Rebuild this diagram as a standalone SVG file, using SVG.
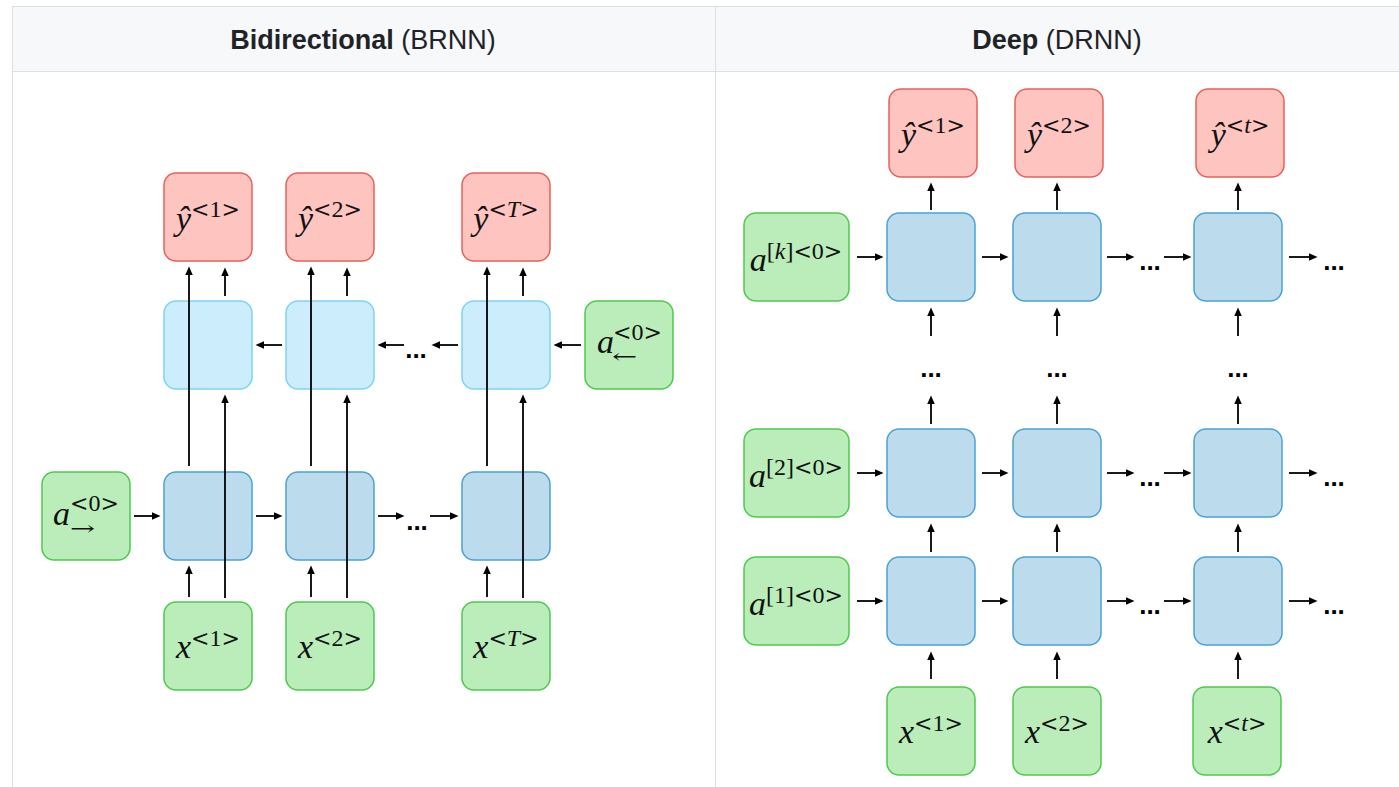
<svg xmlns="http://www.w3.org/2000/svg" width="1399" height="787" viewBox="0 0 1399 787">
  <defs>
    <marker id="ah" markerUnits="userSpaceOnUse" markerWidth="9" markerHeight="8" refX="2" refY="3.75" orient="auto">
      <path d="M0,0 L8.5,3.75 L0,7.5 z" fill="#000"/>
    </marker>
    <style>
      .grid { stroke: #dcdfe3; stroke-width: 1; fill: none; }
      .head { font-family: "Liberation Sans", Arial, sans-serif; font-size: 27px; fill: #1f2328; }
      .red { fill: #fdc4c0; stroke: #e8605a; stroke-width: 1.5; }
      .green { fill: #bbedbb; stroke: #4dc94d; stroke-width: 1.5; }
      .blue { fill: #bcdcee; stroke: #4aa2d4; stroke-width: 1.5; }
      .lblue { fill: #ccedfb; stroke: #7fd3f2; stroke-width: 1.5; }
      .lab { font-family: "Liberation Serif", "DejaVu Serif", serif; font-size: 34px; fill: #111; }
      .v { font-style: italic; }
      .sup { font-size: 24px; font-style: normal; }
      .ang { font-family: "DejaVu Serif", "Liberation Serif", serif; font-size: 22px; }
      .sub { font-family: "DejaVu Serif", serif; font-size: 20px; fill: #111; }
      .dots { font-family: "Liberation Sans", Arial, sans-serif; font-weight: bold; font-size: 26px; fill: #000; }
      .conn path { stroke: #000; stroke-width: 1.8; fill: none; marker-end: url(#ah); }
    </style>
  </defs>

  <!-- table frame -->
  <rect x="0" y="0" width="1399" height="787" fill="#fff"/>
  <rect x="12" y="6" width="1390" height="65" fill="#f6f8fa"/>
  <path class="grid" d="M12 6.5 H1399 M12 71.5 H1399 M12.5 6 V787 M715.5 6 V787"/>
  <text class="head" x="363" y="49" text-anchor="middle"><tspan font-weight="bold">Bidirectional</tspan> (BRNN)</text>
  <text class="head" x="1057" y="49" text-anchor="middle"><tspan font-weight="bold">Deep</tspan> (DRNN)</text>

  <!-- ===== Bidirectional RNN ===== -->
  <g id="brnn-y1"><rect class="red" x="164" y="173" width="88" height="88" rx="12"/>
    <text class="lab" x="208" y="230" text-anchor="middle"><tspan class="v">ŷ</tspan><tspan class="sup" dy="-13"><tspan class="ang">&lt;</tspan>1<tspan class="ang">&gt;</tspan></tspan></text></g>
  <g id="brnn-y2"><rect class="red" x="286" y="173" width="88" height="88" rx="12"/>
    <text class="lab" x="330" y="230" text-anchor="middle"><tspan class="v">ŷ</tspan><tspan class="sup" dy="-13"><tspan class="ang">&lt;</tspan>2<tspan class="ang">&gt;</tspan></tspan></text></g>
  <g id="brnn-yT"><rect class="red" x="462" y="173" width="88" height="88" rx="12"/>
    <text class="lab" x="506" y="230" text-anchor="middle"><tspan class="v">ŷ</tspan><tspan class="sup" dy="-13"><tspan class="ang">&lt;</tspan><tspan class="v">T</tspan><tspan class="ang">&gt;</tspan></tspan></text></g>

  <g id="brnn-back1"><rect class="lblue" x="164" y="301" width="88" height="88" rx="12"/></g>
  <g id="brnn-back2"><rect class="lblue" x="286" y="301" width="88" height="88" rx="12"/></g>
  <g id="brnn-backT"><rect class="lblue" x="462" y="301" width="88" height="88" rx="12"/></g>
  <g id="brnn-a0-back"><rect class="green" x="585" y="301" width="88" height="88" rx="12"/>
    <text class="lab v" x="597" y="353">a</text>
    <text class="lab sup" x="613" y="340"><tspan class="ang">&lt;</tspan>0<tspan class="ang">&gt;</tspan></text>
    <text class="sub" transform="translate(612 363) scale(1.5 1)">←</text></g>

  <g id="brnn-fwd1"><rect class="blue" x="164" y="472" width="88" height="88" rx="12"/></g>
  <g id="brnn-fwd2"><rect class="blue" x="286" y="472" width="88" height="88" rx="12"/></g>
  <g id="brnn-fwdT"><rect class="blue" x="462" y="472" width="88" height="88" rx="12"/></g>
  <g id="brnn-a0-fwd"><rect class="green" x="42" y="472" width="88" height="88" rx="12"/>
    <text class="lab v" x="53" y="525">a</text>
    <text class="lab sup" x="70" y="511"><tspan class="ang">&lt;</tspan>0<tspan class="ang">&gt;</tspan></text>
    <text class="sub" transform="translate(70 535) scale(1.5 1)">→</text></g>

  <g id="brnn-x1"><rect class="green" x="164" y="602" width="88" height="88" rx="12"/>
    <text class="lab" x="208" y="658" text-anchor="middle"><tspan class="v">x</tspan><tspan class="sup" dy="-12"><tspan class="ang">&lt;</tspan>1<tspan class="ang">&gt;</tspan></tspan></text></g>
  <g id="brnn-x2"><rect class="green" x="286" y="602" width="88" height="88" rx="12"/>
    <text class="lab" x="330" y="658" text-anchor="middle"><tspan class="v">x</tspan><tspan class="sup" dy="-12"><tspan class="ang">&lt;</tspan>2<tspan class="ang">&gt;</tspan></tspan></text></g>
  <g id="brnn-xT"><rect class="green" x="462" y="602" width="88" height="88" rx="12"/>
    <text class="lab" x="506" y="658" text-anchor="middle"><tspan class="v">x</tspan><tspan class="sup" dy="-12"><tspan class="ang">&lt;</tspan><tspan class="v">T</tspan><tspan class="ang">&gt;</tspan></tspan></text></g>

  <!-- ===== Deep RNN ===== -->
  <g id="drnn-y1"><rect class="red" x="889" y="89" width="88" height="88" rx="12"/>
    <text class="lab" x="933" y="146" text-anchor="middle"><tspan class="v">ŷ</tspan><tspan class="sup" dy="-13"><tspan class="ang">&lt;</tspan>1<tspan class="ang">&gt;</tspan></tspan></text></g>
  <g id="drnn-y2"><rect class="red" x="1015" y="89" width="88" height="88" rx="12"/>
    <text class="lab" x="1059" y="146" text-anchor="middle"><tspan class="v">ŷ</tspan><tspan class="sup" dy="-13"><tspan class="ang">&lt;</tspan>2<tspan class="ang">&gt;</tspan></tspan></text></g>
  <g id="drnn-yt"><rect class="red" x="1196" y="89" width="88" height="88" rx="12"/>
    <text class="lab" x="1240" y="146" text-anchor="middle"><tspan class="v">ŷ</tspan><tspan class="sup" dy="-13"><tspan class="ang">&lt;</tspan><tspan class="v">t</tspan><tspan class="ang">&gt;</tspan></tspan></text></g>

  <g id="drnn-ak"><rect class="green" x="744" y="213" width="105" height="88" rx="12"/>
    <text class="lab" x="796" y="271" text-anchor="middle"><tspan class="v">a</tspan><tspan class="sup" dy="-12">[<tspan class="v">k</tspan>]<tspan class="ang">&lt;</tspan>0<tspan class="ang">&gt;</tspan></tspan></text></g>
  <g id="drnn-k1"><rect class="blue" x="887" y="213" width="88" height="88" rx="12"/></g>
  <g id="drnn-k2"><rect class="blue" x="1013" y="213" width="88" height="88" rx="12"/></g>
  <g id="drnn-kt"><rect class="blue" x="1194" y="213" width="88" height="88" rx="12"/></g>

  <g id="drnn-a2"><rect class="green" x="744" y="429" width="105" height="88" rx="12"/>
    <text class="lab" x="796" y="487" text-anchor="middle"><tspan class="v">a</tspan><tspan class="sup" dy="-12">[2]<tspan class="ang">&lt;</tspan>0<tspan class="ang">&gt;</tspan></tspan></text></g>
  <g id="drnn-21"><rect class="blue" x="887" y="429" width="88" height="88" rx="12"/></g>
  <g id="drnn-22"><rect class="blue" x="1013" y="429" width="88" height="88" rx="12"/></g>
  <g id="drnn-2t"><rect class="blue" x="1194" y="429" width="88" height="88" rx="12"/></g>

  <g id="drnn-a1"><rect class="green" x="744" y="557" width="105" height="88" rx="12"/>
    <text class="lab" x="796" y="615" text-anchor="middle"><tspan class="v">a</tspan><tspan class="sup" dy="-12">[1]<tspan class="ang">&lt;</tspan>0<tspan class="ang">&gt;</tspan></tspan></text></g>
  <g id="drnn-11"><rect class="blue" x="887" y="557" width="88" height="88" rx="12"/></g>
  <g id="drnn-12"><rect class="blue" x="1013" y="557" width="88" height="88" rx="12"/></g>
  <g id="drnn-1t"><rect class="blue" x="1194" y="557" width="88" height="88" rx="12"/></g>

  <g id="drnn-x1"><rect class="green" x="887" y="687" width="88" height="88" rx="12"/>
    <text class="lab" x="931" y="743" text-anchor="middle"><tspan class="v">x</tspan><tspan class="sup" dy="-12"><tspan class="ang">&lt;</tspan>1<tspan class="ang">&gt;</tspan></tspan></text></g>
  <g id="drnn-x2"><rect class="green" x="1013" y="687" width="88" height="88" rx="12"/>
    <text class="lab" x="1057" y="743" text-anchor="middle"><tspan class="v">x</tspan><tspan class="sup" dy="-12"><tspan class="ang">&lt;</tspan>2<tspan class="ang">&gt;</tspan></tspan></text></g>
  <g id="drnn-xt"><rect class="green" x="1193" y="687" width="88" height="88" rx="12"/>
    <text class="lab" x="1237" y="743" text-anchor="middle"><tspan class="v">x</tspan><tspan class="sup" dy="-12"><tspan class="ang">&lt;</tspan><tspan class="v">t</tspan><tspan class="ang">&gt;</tspan></tspan></text></g>

  <!-- connectors -->
  <g id="connectors" class="conn">
    <!-- BRNN forward chain -->
    <path d="M134 516 H154"/>
    <path d="M256 516 H276"/>
    <path d="M378 516 H398"/>
    <path d="M430 516 H452"/>
    <!-- BRNN backward chain -->
    <path d="M282 345 H262"/>
    <path d="M404 345 H384"/>
    <path d="M458 345 H438"/>
    <path d="M581 345 H560"/>
    <!-- BRNN verticals, column 1 -->
    <path d="M189 597 V572"/>
    <path d="M225 598 V401"/>
    <path d="M189 466 V273"/>
    <path d="M225 296 V274"/>
    <!-- column 2 -->
    <path d="M311 597 V572"/>
    <path d="M347 598 V401"/>
    <path d="M311 466 V273"/>
    <path d="M347 296 V274"/>
    <!-- column T -->
    <path d="M487 597 V572"/>
    <path d="M523 598 V401"/>
    <path d="M487 466 V273"/>
    <path d="M523 296 V274"/>

    <!-- DRNN horizontal chains -->
    <path d="M857 257 H877"/><path d="M982 257 H1002"/><path d="M1107 257 H1128"/><path d="M1164 257 H1185"/><path d="M1289 257 H1311"/>
    <path d="M857 473 H877"/><path d="M982 473 H1002"/><path d="M1107 473 H1128"/><path d="M1164 473 H1185"/><path d="M1289 473 H1311"/>
    <path d="M857 601 H877"/><path d="M982 601 H1002"/><path d="M1107 601 H1128"/><path d="M1164 601 H1185"/><path d="M1289 601 H1311"/>
    <!-- DRNN verticals -->
    <path d="M931 679 V658"/><path d="M931 552 V530"/><path d="M931 424 V402"/><path d="M931 336 V314"/><path d="M931 210 V189"/>
    <path d="M1057 679 V658"/><path d="M1057 552 V530"/><path d="M1057 424 V402"/><path d="M1057 336 V314"/><path d="M1057 210 V189"/>
    <path d="M1238 679 V658"/><path d="M1238 552 V530"/><path d="M1238 424 V402"/><path d="M1238 336 V314"/><path d="M1238 210 V189"/>
  </g>

  <!-- ellipses -->
  <g id="ellipses" class="dots" text-anchor="middle">
    <text x="417" y="530">...</text>
    <text x="416" y="358">...</text>
    <text x="1150" y="270">...</text>
    <text x="1334" y="270">...</text>
    <text x="1150" y="486">...</text>
    <text x="1334" y="486">...</text>
    <text x="1150" y="614">...</text>
    <text x="1334" y="614">...</text>
    <text x="931" y="377">...</text>
    <text x="1057" y="377">...</text>
    <text x="1238" y="377">...</text>
  </g>
</svg>
